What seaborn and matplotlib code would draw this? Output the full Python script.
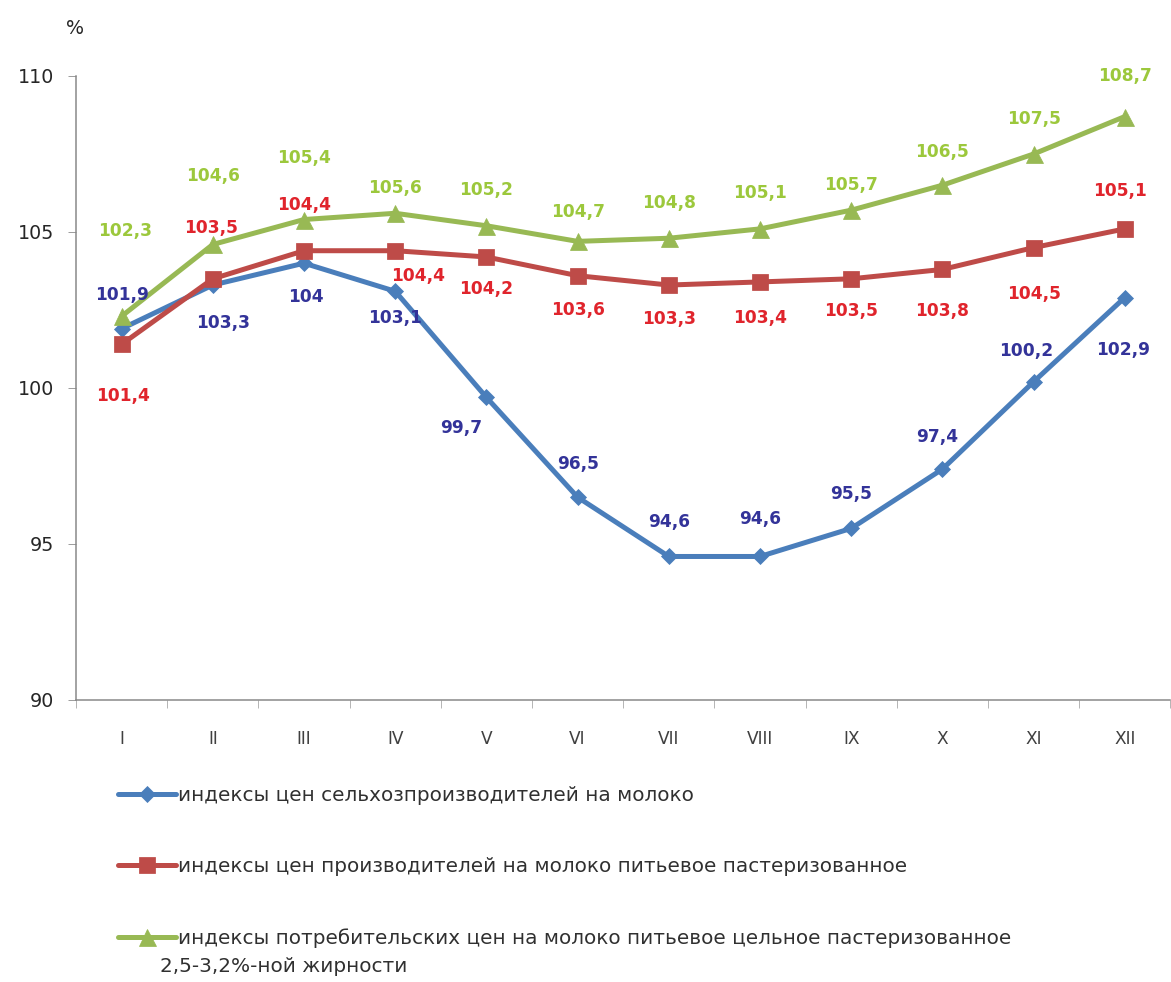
import numpy as np
import pandas as pd
import matplotlib
matplotlib.use("Agg")
import matplotlib.pyplot as plt
import seaborn as sns

months = ["I", "II", "III", "IV", "V", "VI", "VII", "VIII", "IX", "X", "XI", "XII"]
farm_milk = [101.9, 103.3, 104.0, 103.1, 99.7, 96.5, 94.6, 94.6, 95.5, 97.4, 100.2, 102.9]
producer_milk = [101.4, 103.5, 104.4, 104.4, 104.2, 103.6, 103.3, 103.4, 103.5, 103.8, 104.5, 105.1]
consumer_milk = [102.3, 104.6, 105.4, 105.6, 105.2, 104.7, 104.8, 105.1, 105.7, 106.5, 107.5, 108.7]
series_names = [
    "индексы цен сельхозпроизводителей на молоко",
    "индексы цен производителей на молоко питьевое пастеризованное",
    "индексы потребительских цен на молоко питьевое цельное пастеризованное",
]
legend_continuation = "2,5-3,2%-ной жирности"
y_ticks = [90, 95, 100, 105, 110]

sns.set_style("white")
plt.rcParams["font.family"] = ["DejaVu Sans"]

DPI = 72
fig = plt.figure(figsize=(1171 / DPI, 982 / DPI), dpi=DPI)
ax = fig.add_axes([76 / 1171, 1 - 700 / 982, 1 - 76 / 1171 - 0.0005, (700 - 76) / 982])

pos = np.arange(len(months))

styles = [
    dict(color="#4A7EBB", marker="D", markersize=12, label_color="#333399"),
    dict(color="#BE4B48", marker="s", markersize=16, label_color="#E0242C"),
    dict(color="#98B954", marker="^", markersize=17, label_color="#9CC83C"),
]
all_values = [farm_milk, producer_milk, consumer_milk]

# label offsets in points (dx, dy) relative to markers
offsets = [
    [(0, -34), (10, 38), (2, 34), (0, 27), (-25, 31), (0, -33), (0, -34), (0, -37), (0, -34), (-5, -32), (-7, -31), (-2, 52)],
    [(1, 52), (-2, -51), (0, -46), (23, 25), (0, 32), (0, 34), (0, 34), (0, 36), (0, 32), (0, 42), (0, 46), (-5, -38)],
    [(3, -85), (0, -68), (0, -62), (0, -25), (0, -36), (0, -29), (0, -35), (0, -36), (0, -25), (0, -33), (0, -35), (0, -41)],
]

for vals, name, st in zip(all_values, series_names, styles):
    df = pd.DataFrame({"pos": pos, "value": vals})
    sns.lineplot(data=df, x="pos", y="value", ax=ax, color=st["color"],
                 marker=st["marker"], markersize=st["markersize"],
                 markeredgecolor=st["color"], linewidth=5, label=name, zorder=3)
handles, labels = ax.get_legend_handles_labels()
if ax.get_legend() is not None:
    ax.get_legend().remove()

# data labels
for vals, st, offs in zip(all_values, styles, offsets):
    for x, v, (dx, dy) in zip(pos, vals, offs):
        txt = f"{v:.1f}".replace(".", ",")
        if txt.endswith(",0"):
            txt = txt[:-2]
        ax.annotate(txt, (x, v), xytext=(dx, -dy), textcoords="offset points",
                    ha="center", va="center", fontsize=17, fontweight="bold",
                    color=st["label_color"], zorder=5)

ax.set_xlim(-0.5, len(months) - 0.5)
ax.set_ylim(90, 110)
ax.set_yticks(y_ticks)
ax.set_yticklabels([str(t) for t in y_ticks], fontsize=19, color="#262626")
ax.set_xticks(pos)
ax.set_xticklabels(months, fontsize=17, color="#404040")
ax.set_xticks(np.arange(-0.5, len(months), 1.0), minor=True)
ax.tick_params(axis="x", which="major", length=0, pad=30)
ax.tick_params(axis="x", which="minor", length=8, color="#868686", direction="out", bottom=True)
ax.tick_params(axis="y", which="major", length=8, color="#868686", direction="out", left=True, pad=14)
ax.set_xlabel("")
ax.set_ylabel("")
for s in ["top", "right"]:
    ax.spines[s].set_visible(False)
for s in ["left", "bottom"]:
    ax.spines[s].set_color("#868686")
    ax.spines[s].set_linewidth(1.5)
ax.grid(False)

fig.text(75 / 1171, 1 - 28 / 982, "%", fontsize=19, color="#262626", ha="center", va="center")

leg = fig.legend(handles, labels, loc="upper left", bbox_to_anchor=(118 / 1171, 1 - 786 / 982),
                 frameon=False, fontsize=20, handlelength=2.9, handletextpad=0.1,
                 labelspacing=2.6, borderpad=0, borderaxespad=0)
for t in leg.get_texts():
    t.set_color("#303030")
fig.text(160 / 1171, 1 - 966 / 982, legend_continuation, fontsize=20, color="#303030",
         ha="left", va="center")

fig.savefig("out.png", dpi=DPI)
